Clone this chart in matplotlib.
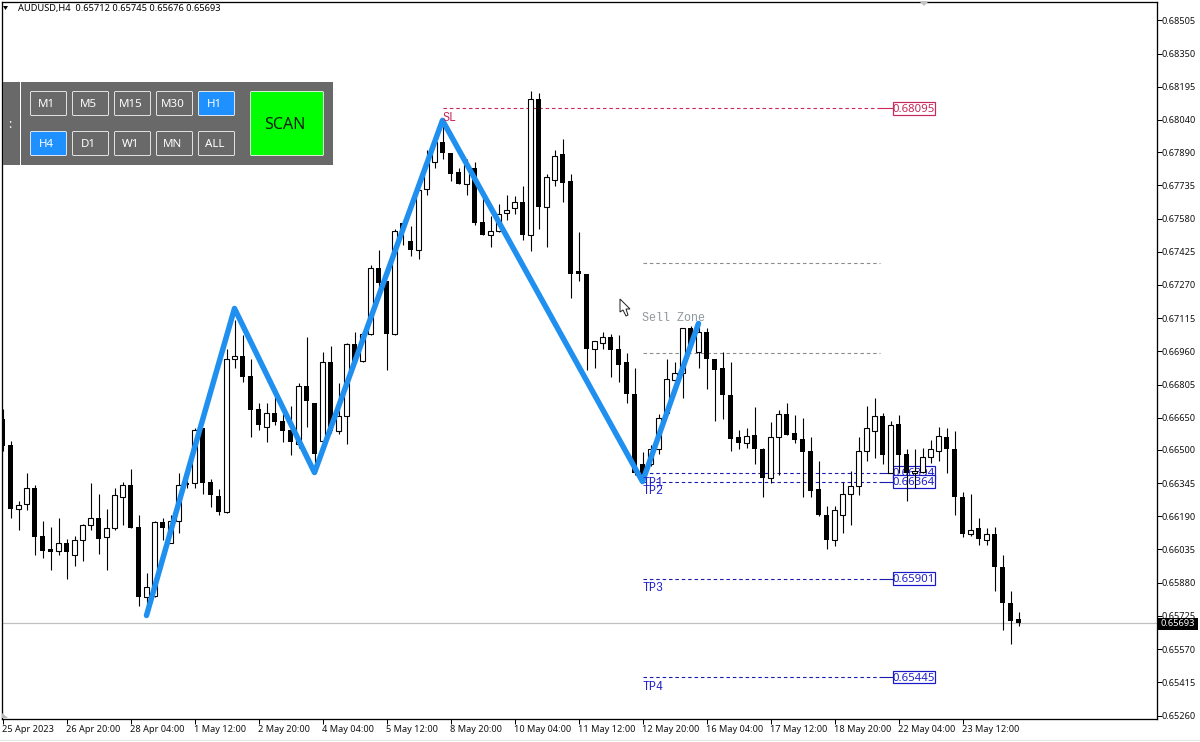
import matplotlib
matplotlib.use('Agg')
import matplotlib.pyplot as plt
from matplotlib.patches import Rectangle, Polygon, FancyBboxPatch

plt.rcParams['font.family'] = ['Noto Sans', 'DejaVu Sans']

# AUDUSD H4 candles, prices in points (1e-5)
opens = [66646, 66525, 66226, 66245, 66324, 66100, 66035, 66030, 66067, 66011, 66077, 66151, 66180, 66095, 66133, 66278,
         66338, 66142, 65811, 65820, 66161, 66063, 66170, 66343, 66343, 66600, 66348, 66283, 66208, 66926, 66936, 66843,
         66693, 66609, 66674, 66637, 66595, 66529, 66796, 66721, 66543, 66912, 66586, 66660, 66992, 66917, 67039, 67347,
         67286, 67039, 67561, 67473, 67435, 67720, 67842, 67935, 67888, 67795, 67739, 67818, 67566, 67505, 67524, 67608,
         67627, 67655, 67505, 68136, 67632, 67762, 67879, 67753, 67337, 67323, 66973, 67001, 67025, 66969, 66908, 66763,
         66432, 66436, 66506, 66674, 66824, 66857, 67067, 66959, 67052, 66926, 66880, 66758, 66558, 66534, 66571, 66506,
         66371, 66562, 66669, 66581, 66553, 66497, 66315, 66198, 66077, 66198, 66292, 66329, 66497, 66590, 66656, 66394,
         66623, 66483, 66390, 66399, 66469, 66497, 66562, 66506, 66282, 66105, 66133, 66081, 66105, 65955, 65787, 65712]
highs = [66693, 66543, 66259, 66390, 66334, 66170, 66142, 66184, 66086, 66100, 66156, 66343, 66296, 66226, 66320, 66348,
         66413, 66194, 65923, 66170, 66180, 66194, 66394, 66436, 66604, 66600, 66366, 66315, 66969, 67104, 67034, 66922,
         66721, 66721, 66749, 66669, 66707, 66814, 67025, 66721, 66959, 66987, 66814, 66997, 67052, 67048, 67361, 67431,
         67286, 67533, 67561, 67543, 67720, 67898, 67935, 68028, 67888, 67818, 67860, 67846, 67674, 67594, 67650, 67692,
         67683, 67730, 68173, 68168, 67790, 67898, 67949, 67790, 67519, 67323, 67006, 67052, 67039, 67034, 66950, 66884,
         66492, 66525, 66669, 66926, 66908, 67071, 67076, 67090, 67067, 66926, 66955, 66912, 66595, 66600, 66698, 66511,
         66632, 66688, 66721, 66665, 66651, 66562, 66450, 66236, 66240, 66348, 66403, 66558, 66707, 66740, 66674, 66637,
         66665, 66506, 66506, 66511, 66548, 66609, 66604, 66590, 66301, 66292, 66184, 66133, 66142, 66007, 65843, 65745]
lows = [66497, 66180, 66128, 66217, 66011, 65993, 65937, 66007, 65899, 65960, 65983, 66128, 66016, 65937, 66124, 66151,
        66133, 65769, 65764, 65811, 66081, 66063, 66114, 66320, 66320, 66296, 66231, 66194, 66203, 66884, 66819, 66562,
        66595, 66539, 66618, 66539, 66478, 66511, 66609, 66403, 66534, 66581, 66576, 66529, 66903, 66908, 67034, 67244,
        66875, 67034, 67454, 67403, 67389, 67692, 67814, 67856, 67753, 67739, 67688, 67552, 67505, 67449, 67515, 67575,
        67603, 67482, 67426, 67529, 67445, 67734, 67655, 67207, 67286, 66875, 66880, 66973, 66838, 66819, 66721, 66385,
        66348, 66427, 66483, 66660, 66791, 66744, 66978, 66884, 66786, 66637, 66642, 66497, 66506, 66511, 66432, 66278,
        66343, 66385, 66571, 66534, 66278, 66282, 66189, 66035, 66053, 66114, 66151, 66287, 66450, 66460, 66432, 66390,
        66390, 66259, 66320, 66390, 66441, 66450, 66394, 66198, 66091, 66100, 66058, 66058, 65839, 65661, 65596, 65676]
closes = [66520, 66226, 66243, 66320, 66095, 66030, 66025, 66067, 66021, 66077, 66151, 66180, 66086, 66133, 66287, 66338,
          66137, 65811, 65858, 66161, 66137, 66170, 66338, 66334, 66595, 66343, 66287, 66208, 66926, 66936, 66838, 66688,
          66614, 66674, 66632, 66590, 66539, 66796, 66730, 66483, 66912, 66590, 66660, 66992, 66917, 67043, 67347, 67281,
          67039, 67524, 67515, 67431, 67711, 67837, 67935, 67884, 67790, 67739, 67828, 67557, 67505, 67524, 67603, 67622,
          67655, 67505, 68136, 67632, 67776, 67874, 67744, 67323, 67323, 66973, 67006, 67025, 66964, 66898, 66763, 66390,
          66371, 66506, 66651, 66833, 66861, 67067, 66987, 67052, 66922, 66875, 66754, 66553, 66534, 66567, 66502, 66371,
          66562, 66669, 66571, 66548, 66492, 66310, 66194, 66077, 66217, 66292, 66329, 66497, 66600, 66656, 66478, 66618,
          66478, 66390, 66403, 66469, 66506, 66567, 66502, 66282, 66105, 66128, 66086, 66105, 65951, 65783, 65703, 65693]

# zigzag pattern: candle index and price
zig_idx = [18, 29, 39, 55, 80, 87]
zig_price = [65727, 67160, 66394, 68038, 66352, 67090]

ytick_values = [68505, 68350, 68195, 68040, 67890, 67735, 67580, 67425, 67270, 67115, 66960, 66805,
                66650, 66500, 66345, 66190, 66035, 65880, 65725, 65570, 65415, 65260]
xtick_idx = [0, 8, 16, 24, 32, 40, 48, 56, 64, 72, 80, 88, 96, 104, 112, 120]
xtick_labels = ['25 Apr 2023', '26 Apr 20:00', '28 Apr 04:00', '1 May 12:00', '2 May 20:00', '4 May 04:00',
                '5 May 12:00', '8 May 20:00', '10 May 04:00', '11 May 12:00', '12 May 20:00', '16 May 04:00',
                '17 May 12:00', '18 May 20:00', '22 May 04:00', '23 May 12:00']

last_price = 65693
sl_price = 68094
sell_zone = [67370, 66950]
tp_prices = [66393, 66352, 65899, 65440]
tp_names = ['TP1', 'TP2', 'TP3', 'TP4']
tp_labels = ['0.66394', '0.66364', '0.65901', '0.65445']

rows_top = ['M1', 'M5', 'M15', 'M30', 'H1']
rows_bottom = ['H4', 'D1', 'W1', 'MN', 'ALL']

W, H = 1200, 742
fig = plt.figure(figsize=(12, 7.42), dpi=100, facecolor='white')
ax = fig.add_axes([1.5 / W, (H - 718.5) / H, 1155 / W, 717 / H])
ax.set_xlim(-0.125, 144.25)
ax.set_ylim(65246, 68593)

RED = '#c8285a'
BLUE = '#1c1cb0'
GREY = '#8c8c8c'
ZIG = '#2090f0'
px = 0.72
dash = (0, (3.2, 2.6))

# wicks then bodies
ax.vlines(range(len(opens)), lows, highs, color='black', lw=1.1 * px, zorder=3)
for i in range(len(opens)):
    o, c = opens[i], closes[i]
    top, low = max(o, c), min(o, c)
    if c < o:
        ax.bar(i, top - low, bottom=low, width=0.62, color='black', zorder=3.2)
    else:
        ax.bar(i, top - low, bottom=low, width=0.52, facecolor='white', edgecolor='black',
               linewidth=1.1 * px, zorder=3.2)

ax.plot(zig_idx, zig_price, color=ZIG, lw=5.5 * px, solid_joinstyle='round', solid_capstyle='round', zorder=4)

ax.axhline(last_price, color='#c0c0c0', lw=1.2 * px, zorder=2)

line_end = 111.3
dash_end = 109.7
box_w = 5.25
box_h = 60

# stop level
ax.plot([55, dash_end], [sl_price, sl_price], color=RED, lw=1.1 * px, ls=dash, zorder=1)
ax.plot([dash_end, line_end], [sl_price, sl_price], color=RED, lw=1.1 * px, zorder=1)
ax.text(55, sl_price - 46, 'SL', color=RED, family='Liberation Mono', fontsize=8.4, ha='left', va='center', zorder=5)
ax.add_patch(Rectangle((line_end, sl_price - box_h / 2), box_w, box_h, fc='white', ec=RED, lw=1.2 * px, zorder=1.2))
ax.text(line_end + box_w / 2, sl_price - 5, '0.68095', color=RED, fontsize=8.2, ha='center', va='center', zorder=1.4)

# sell zone
for price in sell_zone:
    ax.plot([80, dash_end], [price, price], color=GREY, lw=1.1 * px, ls=dash, zorder=1)
ax.text(80, 67117, 'Sell Zone', color='#8e979c', family='Liberation Mono', fontsize=8.4, ha='left', va='center', zorder=5)

# targets
for price, name, label in zip(tp_prices, tp_names, tp_labels):
    ax.plot([80, dash_end], [price, price], color=BLUE, lw=1.1 * px, ls=dash, zorder=1)
    ax.plot([dash_end, line_end], [price, price], color=BLUE, lw=1.1 * px, zorder=1)
    ax.text(80, price - 46, name, color='#2020c8', family='Liberation Mono', fontsize=8.4, ha='left', va='center', zorder=5)
    ax.add_patch(Rectangle((line_end, price - box_h / 2), box_w, box_h, fc='white', ec='#1818c8', lw=1.2 * px, zorder=1.2))
    ax.text(line_end + box_w / 2, price - 5, label, color='#2020c8', fontsize=8.2, ha='center', va='center', zorder=1.4)

ax.yaxis.tick_right()
ax.set_yticks(ytick_values)
ax.set_yticklabels(['%.5f' % (v / 100000) for v in ytick_values], fontsize=6.6, color='#111111')
ax.set_xticks(xtick_idx)
ax.set_xticklabels(xtick_labels, fontsize=6.6, ha='left', color='#111111')
ax.tick_params(axis='y', length=3.5 * px * 1.4, width=px, pad=0.2)
ax.tick_params(axis='x', length=3.5 * px * 1.4, width=px, pad=0.8)
for spine in ax.spines.values():
    spine.set_linewidth(1.3 * px)
    spine.set_color('black')

# overlay in pixel coordinates for the terminal widgets
ui = fig.add_axes([0, 0, 1, 1], facecolor='none')
ui.set_xlim(0, W)
ui.set_ylim(H, 0)
ui.axis('off')

ui.add_patch(Polygon([(3, 6), (8, 6), (5.5, 10)], fc='black', ec='none'))
ui.text(17.5, 8, 'AUDUSD,H4  0.65712 0.65745 0.65676 0.65693', fontsize=6.7, color='black', va='center', ha='left')

# current price tag
ui.add_patch(Rectangle((1158, 618), 40, 11.5, fc='black', ec='none'))
ui.text(1177.5, 623.5, '0.65693', color='white', fontsize=6.7, ha='center', va='center')

# corner marks
ui.add_patch(Polygon([(2, 713), (8, 718), (2, 718)], fc='#b8b8b8', ec='none'))
ui.add_patch(Polygon([(919, 1), (929, 1), (924, 6)], fc='#c4c4c4', ec='none'))

# mouse cursor
ui.add_patch(Polygon([(620, 299), (620, 312), (623, 310), (626, 316), (628, 315), (626, 309), (630, 309)],
                     fc='white', ec='#222222', lw=px))

# scanner panel
ui.add_patch(Rectangle((3, 82), 330, 83, fc='#696969', ec='none'))
ui.plot([19.5, 19.5], [82, 165], color='white', lw=px)
ui.text(10, 124, ':', color='white', fontsize=8.5, ha='center', va='center', fontweight='bold')


def button(x, y, label, active):
    face = '#1e90ff' if active else '#696969'
    ui.add_patch(FancyBboxPatch((x + 0.5, y + 0.5), 36, 24, boxstyle='round,pad=0,rounding_size=1.2', fc=face, ec='white', lw=0.8 * px))
    ui.text(x + 16.5, y + 13.5, label, color='white', fontsize=8.3, ha='center', va='center')


for col, label in enumerate(rows_top):
    button(30 + 42 * col, 91, label, label == 'H1')
for col, label in enumerate(rows_bottom):
    button(30 + 42 * col, 131, label, label == 'H4')

ui.add_patch(FancyBboxPatch((250.5, 91.5), 73, 64, boxstyle='round,pad=0,rounding_size=1.2', fc='#00ff00', ec='white', lw=0.8 * px))
ui.text(285, 125, 'SCAN', color='#102010', fontsize=11.5, ha='center', va='center')

# window edge at the very bottom
ui.plot([0, W], [739.5, 739.5], color='#e4e4e4', lw=px)
ui.plot([0, 272], [741.5, 741.5], color='#222222', lw=px)
ui.plot([360, W], [741.5, 741.5], color='#222222', lw=px)

fig.savefig('out.png', dpi=100)
plt.close(fig)
